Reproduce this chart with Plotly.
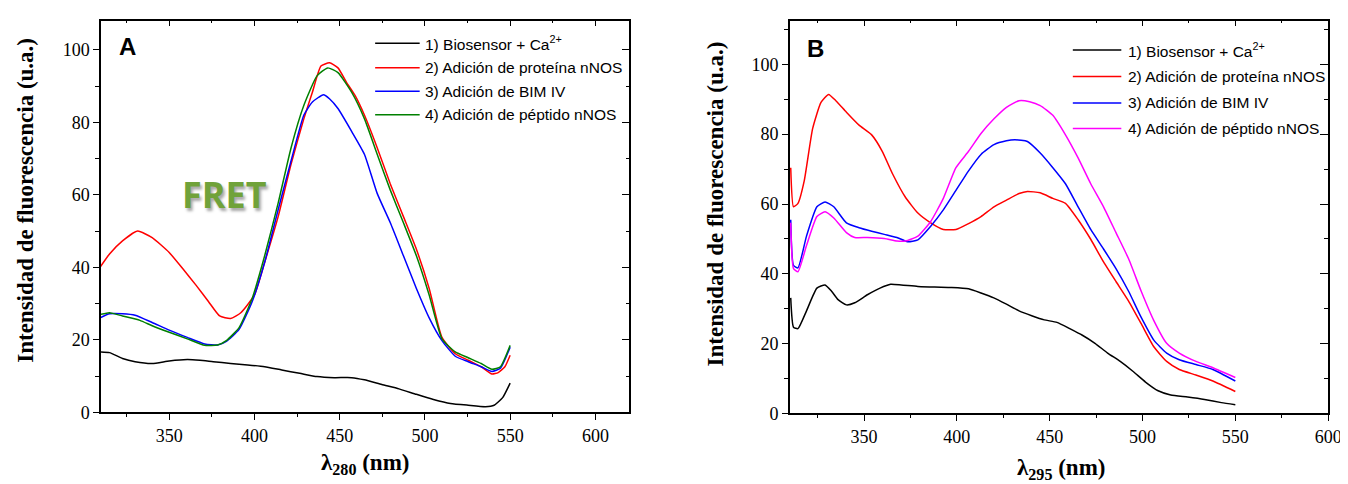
import plotly.graph_objects as go

W, H = 1348, 484

# ---------------- Panel A data (excitation 280 nm) ----------------
a1_x = [309.5, 315, 322.6, 330, 340, 350, 360.6, 368, 375.8, 386, 396, 406, 416, 426.5, 436.7, 446.8, 457, 464.5, 474.7, 484.8, 495, 505, 515, 525.4, 535.5, 540.6, 545.6, 550]
a1_y = [16.7, 16.5, 14.9, 14.0, 13.5, 14.2, 14.6, 14.4, 14.0, 13.5, 13.1, 12.6, 11.7, 10.8, 9.9, 9.6, 9.6, 9.0, 7.7, 6.5, 5.0, 3.6, 2.5, 2.0, 1.6, 2.0, 4.1, 8.1]

a2_x = [309.5, 315, 322.6, 331.5, 340, 350, 358, 365.7, 373, 379.6, 386, 392, 400, 406, 413.9, 421.5, 429, 434, 439, 444, 449, 454, 459, 464.5, 472, 479.7, 487.4, 495, 502.5, 510, 517.8, 525.4, 533, 539.3, 543, 546.9, 550]
a2_y = [40.1, 43.7, 47.3, 50.0, 48.2, 44.1, 39.6, 35.1, 30.6, 26.6, 25.9, 27.5, 32.4, 41.4, 54.0, 68.5, 81.0, 88.3, 95.5, 96.4, 95.0, 91.0, 87.4, 82.0, 73.0, 63.0, 54.0, 45.0, 34.2, 20.7, 16.2, 14.4, 12.6, 10.6, 11.0, 12.6, 15.8]

a3_x = [309.5, 315, 322.6, 330, 340, 350, 360.6, 370.8, 378.4, 383.5, 391, 398.7, 406, 413.9, 421.5, 429, 434, 440.5, 444, 449, 457, 464.5, 472, 479.7, 487.4, 495, 502.5, 510, 517.8, 525.4, 533, 539.3, 544.3, 550]
a3_y = [26.1, 27.2, 27.2, 26.8, 24.8, 22.7, 20.7, 18.9, 18.6, 19.6, 22.9, 30.6, 41.4, 55.9, 69.4, 82.0, 85.6, 87.6, 86.5, 83.8, 77.5, 71.2, 60.4, 52.3, 43.2, 34.2, 26.1, 19.8, 15.5, 14.0, 12.6, 11.3, 12.2, 18.0]

a4_x = [309.5, 315, 322.6, 332.8, 340, 350, 360.6, 370.8, 378.4, 383.5, 391, 398.7, 406, 413.9, 421.5, 429, 436.7, 443, 449, 457, 464.5, 472, 479.7, 487.4, 495, 502.5, 510, 517.8, 525.4, 533, 539.3, 544.3, 550]
a4_y = [27.0, 27.5, 26.6, 25.4, 23.9, 22.1, 20.3, 18.5, 18.6, 19.8, 23.4, 31.5, 43.2, 57.7, 73.0, 84.7, 92.8, 95.0, 93.7, 88.3, 81.0, 71.2, 61.3, 52.3, 43.2, 32.4, 20.3, 16.7, 15.1, 13.5, 11.9, 12.6, 18.5]

# ---------------- Panel B data (excitation 295 nm) ----------------
b1_x = [310.5, 312, 314.4, 319, 324.6, 329, 332.5, 336, 340.5, 345, 351.8, 358.6, 364.3, 370, 379, 388, 397.2, 406.3, 413, 419.9, 426.7, 433.5, 440.3, 447.1, 453.9, 460.8, 467.6, 474.4, 481.2, 488, 494.8, 501.6, 508.4, 515.2, 524.3, 533.4, 542.5, 550]
b1_y = [33.1, 24.7, 24.3, 29.4, 35.9, 36.8, 35.0, 32.6, 31.1, 31.7, 34.0, 35.9, 37.0, 36.8, 36.4, 36.2, 36.1, 35.7, 34.5, 33.1, 31.3, 29.4, 28.0, 26.8, 26.1, 24.3, 22.4, 20.1, 17.3, 14.9, 12.1, 9.0, 6.5, 5.3, 4.7, 4.0, 3.1, 2.5]

b2_x = [310.5, 312, 314.4, 317.8, 322.3, 326.8, 330.9, 334.8, 340.5, 347.3, 354.1, 359.8, 365.4, 372.2, 379, 385.9, 392.7, 399.5, 406.3, 413, 420, 426.7, 433.5, 438, 444.9, 451.7, 458.5, 465.3, 472.1, 479, 485.7, 492.5, 499.3, 506.1, 513, 519.8, 528.8, 537.9, 550]
b2_y = [70.4, 59.2, 60.2, 66.7, 81.6, 89.1, 91.4, 89.6, 86.3, 82.6, 79.8, 75.1, 68.6, 62.0, 57.4, 54.6, 52.7, 52.7, 54.4, 56.4, 59.2, 61.1, 63.0, 63.6, 63.2, 61.6, 60.2, 55.5, 49.9, 43.4, 37.8, 32.2, 25.7, 19.1, 14.9, 12.6, 11.0, 9.3, 6.3]

b3_x = [310.5, 312, 314.4, 319, 324.6, 329, 333.7, 340.5, 347.3, 354.1, 360.9, 367.7, 373.4, 379, 385.9, 392.7, 399.5, 406.3, 413, 420, 426.7, 431.3, 438, 444.9, 451.7, 458.5, 465.3, 472.1, 479, 485.7, 492.5, 499.3, 506.1, 513, 519.8, 528.8, 537.9, 550]
b3_y = [55.5, 42.4, 41.7, 50.8, 59.2, 60.6, 59.2, 54.6, 53.2, 52.2, 51.3, 50.4, 49.2, 49.7, 53.6, 58.3, 63.9, 69.5, 74.2, 77.0, 78.1, 78.4, 77.9, 74.6, 70.4, 65.8, 59.2, 52.7, 47.1, 41.5, 35.0, 27.5, 21.0, 17.3, 15.4, 14.0, 12.6, 9.3]

b4_x = [310.5, 312, 314.4, 319, 324.6, 329, 333.7, 340.5, 345, 351.8, 360.9, 367.7, 372.2, 379, 385.9, 392.7, 399.5, 406.3, 413, 420, 426.7, 433.5, 439.2, 444.9, 451.7, 458.5, 465.3, 472.1, 479, 485.7, 492.5, 499.3, 506.1, 513, 519.8, 528.8, 537.9, 550]
b4_y = [54.6, 41.5, 40.6, 48.1, 56.4, 57.8, 56.0, 51.8, 50.4, 50.4, 50.1, 49.4, 49.4, 50.8, 55.0, 61.6, 70.4, 75.1, 80.2, 84.4, 87.7, 89.6, 89.3, 88.2, 85.4, 79.8, 73.2, 65.8, 59.2, 51.8, 44.3, 35.0, 26.6, 20.1, 17.3, 14.9, 13.1, 10.3]

legend_labels_a = ["1) Biosensor + Ca<sup>2+</sup>", "2) Adición de proteína nNOS",
                   "3) Adición de BIM IV", "4) Adición de péptido nNOS"]
legend_labels_b = ["1) Biosensor + Ca<sup>2+</sup>", "2) Adición de proteína nNOS",
                   "3) Adición de BIM IV", "4) Adición de péptido nNOS"]
colors_a = ["#000000", "#ff0000", "#0000ff", "#008000"]
colors_b = ["#000000", "#ff0000", "#0000ff", "#ff00ff"]

x_range_a = [310, 620]
y_range_a = [0, 108]
x_range_b = [310, 600]
y_range_b = [0, 112.5]

# ---------------- helpers ----------------
def px(x):
    return x / W

def py(y):
    return (H - y) / H

fig = go.Figure()

series_a = [(a1_x, a1_y), (a2_x, a2_y), (a3_x, a3_y), (a4_x, a4_y)]
series_b = [(b1_x, b1_y), (b2_x, b2_y), (b3_x, b3_y), (b4_x, b4_y)]

for (xs, ys), c, name in zip(series_a, colors_a, legend_labels_a):
    fig.add_trace(go.Scatter(x=xs, y=ys, mode="lines", name=name, showlegend=False,
                             line=dict(color=c, width=1.5, shape="spline", smoothing=0.5),
                             xaxis="x", yaxis="y"))
for (xs, ys), c, name in zip(series_b, colors_b, legend_labels_b):
    fig.add_trace(go.Scatter(x=xs, y=ys, mode="lines", name=name, showlegend=False,
                             line=dict(color=c, width=1.5, shape="spline", smoothing=0.5),
                             xaxis="x2", yaxis="y2"))
# dummy traces for mirror (inward) axes
for xa, ya in [("x3", "y3"), ("x4", "y4")]:
    fig.add_trace(go.Scatter(x=[None], y=[None], xaxis=xa, yaxis=ya, showlegend=False,
                             hoverinfo="skip"))

dom_xa = [px(94), px(628)]
dom_ya = [py(413), py(13)]
dom_xb = [px(790), px(1334)]
dom_yb = [py(414), py(13)]

SERIF = "Liberation Serif, Times New Roman, serif"
SANS = "Liberation Sans, Arial, sans-serif"
tickfont = dict(family=SERIF, size=18, color="black")

def base_x(rng, dom, anchor):
    return dict(range=rng, domain=dom, anchor=anchor, showgrid=False, zeroline=False,
                showline=True, linecolor="black", linewidth=1.5,
                ticks="outside", ticklen=6, tickwidth=1.3, tickcolor="black",
                tick0=300, dtick=50, tickfont=tickfont,
                minor=dict(ticks="outside", ticklen=3, dtick=25, tick0=300,
                           tickcolor="black", tickwidth=1.3))

def base_y(rng, dom, anchor):
    return dict(range=rng, domain=dom, anchor=anchor, showgrid=False, zeroline=False,
                showline=True, linecolor="black", linewidth=1.5,
                ticks="outside", ticklen=6, tickwidth=1.3, tickcolor="black",
                tick0=0, dtick=20, tickfont=tickfont,
                minor=dict(ticks="outside", ticklen=4, dtick=10, tick0=0,
                           tickcolor="black", tickwidth=1.3))

def mirror_x(rng, dom, anchor, over):
    return dict(range=rng, domain=dom, anchor=anchor, overlaying=over, side="top",
                showgrid=False, zeroline=False, showline=True, linecolor="black",
                linewidth=1.5, ticks="inside", ticklen=6, tickwidth=1.3, tickcolor="black",
                tick0=300, dtick=50, showticklabels=False,
                minor=dict(ticks="inside", ticklen=3, dtick=25, tick0=300,
                           tickcolor="black", tickwidth=1.3))

def mirror_y(rng, dom, anchor, over):
    return dict(range=rng, domain=dom, anchor=anchor, overlaying=over, side="right",
                showgrid=False, zeroline=False, showline=True, linecolor="black",
                linewidth=1.5, ticks="inside", ticklen=8, tickwidth=1.3, tickcolor="black",
                tick0=0, dtick=20, showticklabels=False,
                minor=dict(ticks="inside", ticklen=4, dtick=10, tick0=0,
                           tickcolor="black", tickwidth=1.3))

fig.update_layout(
    width=W, height=H, margin=dict(l=0, r=0, t=0, b=0),
    font=dict(family=SERIF, color="black"),
    paper_bgcolor="white", plot_bgcolor="white", showlegend=False,
    xaxis=base_x(x_range_a, dom_xa, "y"),
    yaxis=base_y(y_range_a, dom_ya, "x"),
    xaxis2=base_x(x_range_b, dom_xb, "y2"),
    yaxis2=base_y(y_range_b, dom_yb, "x2"),
    xaxis3=mirror_x(x_range_a, dom_xa, "y3", "x"),
    yaxis3=mirror_y(y_range_a, dom_ya, "x3", "y"),
    xaxis4=mirror_x(x_range_b, dom_xb, "y4", "x2"),
    yaxis4=mirror_y(y_range_b, dom_yb, "x4", "y2"),
)

annotations = []
shapes = []

title_font = dict(family=SERIF, size=23, color="black")
# y titles
annotations.append(dict(x=px(18), y=py(196), xref="paper", yref="paper", showarrow=False,
                        text="<b>Intensidad de fluorescencia (u.a.)</b>", textangle=-90,
                        font=title_font, xanchor="center", yanchor="middle"))
annotations.append(dict(x=px(715), y=py(200), xref="paper", yref="paper", showarrow=False,
                        text="<b>Intensidad de fluorescencia (u.a.)</b>", textangle=-90,
                        font=title_font, xanchor="center", yanchor="middle"))
# x titles
annotations.append(dict(x=px(361), y=py(466), xref="paper", yref="paper", showarrow=False,
                        text="<b>λ<sub>280</sub> (nm)</b>", font=title_font,
                        xanchor="center", yanchor="middle"))
annotations.append(dict(x=px(1064), y=py(471), xref="paper", yref="paper", showarrow=False,
                        text="<b>λ<sub>295</sub> (nm)</b>", font=title_font,
                        xanchor="center", yanchor="middle"))
# panel letters
panel_font = dict(family=SANS, size=24, color="black")
annotations.append(dict(x=px(110), y=py(39), xref="paper", yref="paper", showarrow=False,
                        text="<b>A</b>", font=panel_font, xanchor="left", yanchor="middle"))
annotations.append(dict(x=px(805), y=py(41), xref="paper", yref="paper", showarrow=False,
                        text="<b>B</b>", font=panel_font, xanchor="left", yanchor="middle"))
# FRET label
annotations.append(dict(x=px(219), y=py(190), xref="paper", yref="paper", showarrow=False,
                        text="<b>FRET</b>",
                        font=dict(family="Open Sans", size=36, color="#70a23a",
                                  shadow="2px 3px 3px rgba(0,0,0,0.35)"),
                        xanchor="center", yanchor="middle"))

# legends (drawn manually)
leg_font = dict(family=SANS, size=15.5, color="black")
rows_a = [36, 61, 85, 109]
for lbl, c, yy in zip(legend_labels_a, colors_a, rows_a):
    shapes.append(dict(type="line", xref="paper", yref="paper", x0=px(371), x1=px(416),
                       y0=py(yy), y1=py(yy), line=dict(color=c, width=1.5)))
    annotations.append(dict(x=px(419), y=py(yy), xref="paper", yref="paper", showarrow=False,
                            text=lbl, font=leg_font, xanchor="left", yanchor="middle"))
rows_b = [43, 70, 97, 123]
for lbl, c, yy in zip(legend_labels_b, colors_b, rows_b):
    shapes.append(dict(type="line", xref="paper", yref="paper", x0=px(1076), x1=px(1125),
                       y0=py(yy), y1=py(yy), line=dict(color=c, width=1.5)))
    annotations.append(dict(x=px(1130), y=py(yy), xref="paper", yref="paper", showarrow=False,
                            text=lbl, font=leg_font, xanchor="left", yanchor="middle"))

fig.update_layout(annotations=annotations, shapes=shapes)

fig.write_html("out.html")
